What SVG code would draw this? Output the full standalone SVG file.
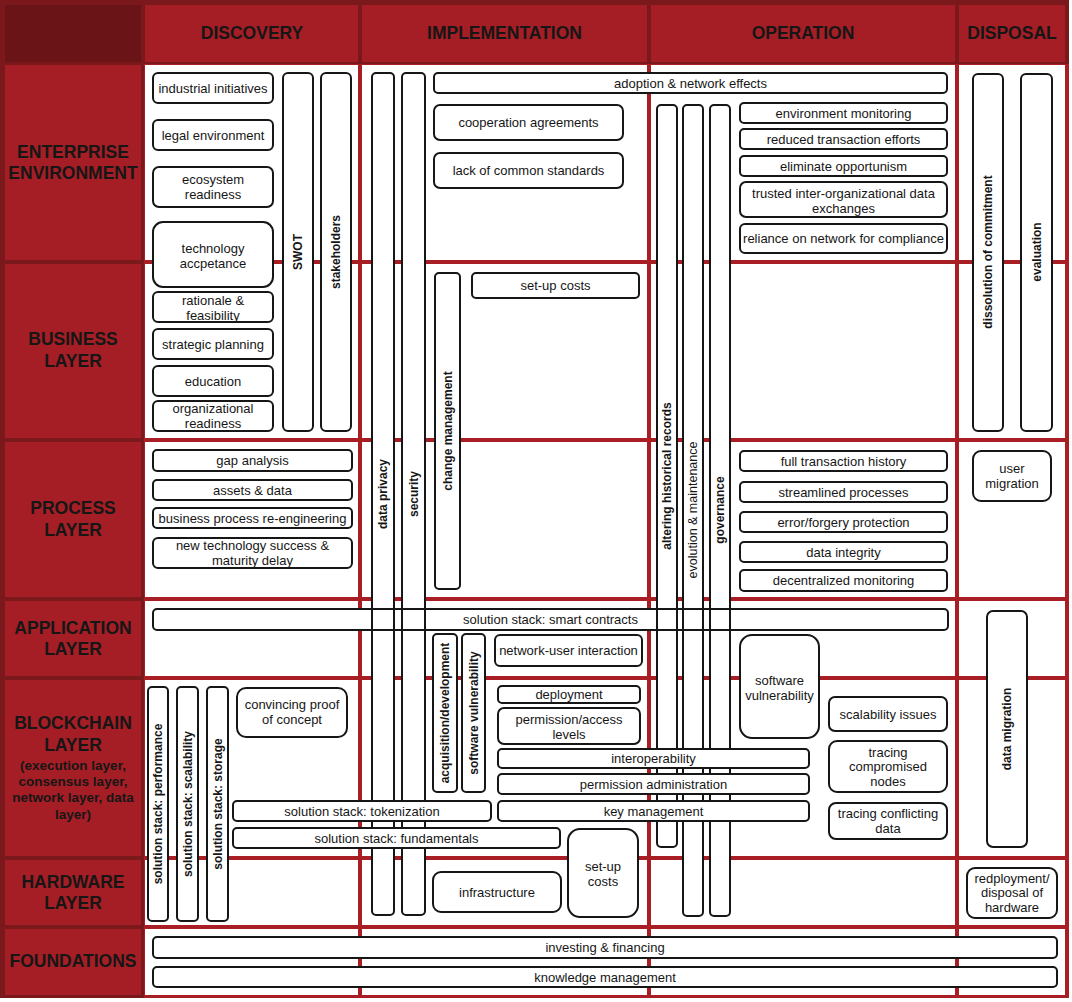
<svg xmlns="http://www.w3.org/2000/svg" width="1072" height="1002" viewBox="0 0 1072 1002">
<style>
.frame{fill:#7a181c}
.corner{fill:#6a1417}
.hd{fill:#a51e25}
.grid{fill:#a91d25}
.cell{fill:#ffffff}
.bk{fill:#ffffff;stroke:none}
.n rect{fill:none;stroke:#161616;stroke-width:2}
.n.top rect{fill:#ffffff}
text{font-family:"Liberation Sans",Arial,Helvetica,sans-serif;fill:#161616;text-anchor:middle}
.h{font-size:17.5px;font-weight:bold}
.s{font-size:13.5px;font-weight:bold}
.t{font-size:13px}
.v{font-size:12px;font-weight:bold}
.vr{font-size:12.5px}
</style>
<rect x="0" y="0" width="1072" height="1002" fill="#ffffff"/>
<g id="background">
<rect class="frame" x="0" y="0" width="1069" height="998"/>
<rect class="corner" x="5" y="5" width="136" height="57"/>
<rect class="hd" x="145" y="5" width="213" height="57"/>
<rect class="hd" x="362" y="5" width="285" height="57"/>
<rect class="hd" x="651" y="5" width="304" height="57"/>
<rect class="hd" x="959" y="5" width="106" height="57"/>
<rect class="hd" x="5" y="65" width="136" height="195"/>
<rect class="hd" x="5" y="264" width="136" height="174"/>
<rect class="hd" x="5" y="442" width="136" height="155"/>
<rect class="hd" x="5" y="601" width="136" height="75"/>
<rect class="hd" x="5" y="680" width="136" height="176"/>
<rect class="hd" x="5" y="860" width="136" height="65"/>
<rect class="hd" x="5" y="929" width="136" height="66"/>
<rect class="grid" x="144" y="64" width="925" height="934"/>
</g>
<g id="cells">
<rect class="cell" x="145" y="65" width="213" height="195"/><rect class="cell" x="362" y="65" width="285" height="195"/><rect class="cell" x="651" y="65" width="304" height="195"/><rect class="cell" x="959" y="65" width="106" height="195"/>
<rect class="cell" x="145" y="264" width="213" height="174"/><rect class="cell" x="362" y="264" width="285" height="174"/><rect class="cell" x="651" y="264" width="304" height="174"/><rect class="cell" x="959" y="264" width="106" height="174"/>
<rect class="cell" x="145" y="442" width="213" height="155"/><rect class="cell" x="362" y="442" width="285" height="155"/><rect class="cell" x="651" y="442" width="304" height="155"/><rect class="cell" x="959" y="442" width="106" height="155"/>
<rect class="cell" x="145" y="601" width="213" height="75"/><rect class="cell" x="362" y="601" width="285" height="75"/><rect class="cell" x="651" y="601" width="304" height="75"/><rect class="cell" x="959" y="601" width="106" height="75"/>
<rect class="cell" x="145" y="680" width="213" height="176"/><rect class="cell" x="362" y="680" width="285" height="176"/><rect class="cell" x="651" y="680" width="304" height="176"/><rect class="cell" x="959" y="680" width="106" height="176"/>
<rect class="cell" x="145" y="860" width="213" height="65"/><rect class="cell" x="362" y="860" width="285" height="65"/><rect class="cell" x="651" y="860" width="304" height="65"/><rect class="cell" x="959" y="860" width="106" height="65"/>
<rect class="cell" x="145" y="929" width="213" height="66"/><rect class="cell" x="362" y="929" width="285" height="66"/><rect class="cell" x="651" y="929" width="304" height="66"/><rect class="cell" x="959" y="929" width="106" height="66"/>
</g>
<g id="headers">
<text class="h" x="252" y="39">DISCOVERY</text>
<text class="h" x="504.5" y="39">IMPLEMENTATION</text>
<text class="h" x="803" y="39">OPERATION</text>
<text class="h" x="1012" y="39">DISPOSAL</text>
<text class="h" x="73" y="158">ENTERPRISE</text><text class="h" x="73" y="179">ENVIRONMENT</text>
<text class="h" x="73" y="345">BUSINESS</text><text class="h" x="73" y="367">LAYER</text>
<text class="h" x="73" y="514">PROCESS</text><text class="h" x="73" y="536">LAYER</text>
<text class="h" x="73" y="634">APPLICATION</text><text class="h" x="73" y="655">LAYER</text>
<text class="h" x="73" y="729">BLOCKCHAIN</text><text class="h" x="73" y="751">LAYER</text>
<text class="s" x="73" y="770">(execution layer,</text><text class="s" x="73" y="786">consensus layer,</text><text class="s" x="73" y="802">network layer, data</text><text class="s" x="73" y="819">layer)</text>
<text class="h" x="73" y="888">HARDWARE</text><text class="h" x="73" y="909">LAYER</text>
<text class="h" x="73" y="967">FOUNDATIONS</text>
</g>
<g id="node-backs" class="bk">
<rect x="153" y="73" width="120" height="30" rx="5"/><rect x="153" y="120" width="120" height="30" rx="5"/><rect x="153" y="167" width="120" height="40" rx="6"/><rect x="153" y="222" width="120" height="65" rx="10"/>
<rect x="283" y="73" width="30" height="358" rx="5"/><rect x="321" y="73" width="30" height="358" rx="5"/>
<rect x="153" y="292" width="120" height="30" rx="5"/><rect x="153" y="329" width="120" height="30" rx="5"/><rect x="153" y="366" width="120" height="30" rx="5"/><rect x="153" y="401" width="120" height="30" rx="5"/>
<rect x="153" y="450" width="199" height="21" rx="4"/><rect x="153" y="480" width="199" height="20" rx="4"/><rect x="153" y="508" width="199" height="20" rx="4"/><rect x="153" y="538" width="199" height="30" rx="5"/>
<rect x="148" y="687" width="20" height="234" rx="4"/><rect x="177" y="687" width="21" height="234" rx="4"/><rect x="207" y="687" width="21" height="234" rx="4"/>
<rect x="237" y="688" width="110" height="49" rx="9"/>
<rect x="372" y="73" width="22" height="842" rx="4"/><rect x="402" y="73" width="23" height="842" rx="4"/>
<rect x="434" y="73" width="513" height="20" rx="4"/><rect x="434" y="105" width="189" height="35" rx="6"/><rect x="434" y="153" width="189" height="35" rx="6"/>
<rect x="435" y="273" width="25" height="316" rx="4"/><rect x="472" y="273" width="167" height="25" rx="4"/>
<rect x="433" y="634" width="24" height="158" rx="4"/><rect x="462" y="634" width="23" height="158" rx="4"/><rect x="495" y="635" width="147" height="31" rx="5"/>
<rect x="498" y="686" width="142" height="17" rx="4"/><rect x="498" y="708" width="142" height="36" rx="6"/>
<rect x="568" y="829" width="70" height="88" rx="12"/><rect x="433" y="872" width="128" height="40" rx="8"/>
<rect x="657" y="105" width="20" height="742" rx="4"/><rect x="683" y="105" width="20" height="811" rx="4"/><rect x="710" y="105" width="20" height="811" rx="4"/>
<rect x="740" y="103" width="207" height="20" rx="4"/><rect x="740" y="129" width="207" height="20" rx="4"/><rect x="740" y="156" width="207" height="20" rx="4"/><rect x="740" y="182" width="207" height="35" rx="6"/><rect x="740" y="224" width="207" height="29" rx="5"/>
<rect x="740" y="451" width="207" height="20" rx="4"/><rect x="740" y="482" width="207" height="20" rx="4"/><rect x="740" y="512" width="207" height="20" rx="4"/><rect x="740" y="542" width="207" height="20" rx="4"/><rect x="740" y="570" width="207" height="21" rx="4"/>
<rect x="153" y="609" width="795" height="21" rx="4"/>
<rect x="740" y="635" width="79" height="103" rx="12"/><rect x="829" y="697" width="118" height="34" rx="6"/><rect x="829" y="741" width="118" height="51" rx="8"/><rect x="829" y="803" width="118" height="36" rx="7"/>
<rect x="973" y="74" width="30" height="357" rx="5"/><rect x="1021" y="74" width="31" height="357" rx="5"/>
<rect x="973" y="451" width="78" height="50" rx="8"/><rect x="987" y="611" width="40" height="236" rx="6"/><rect x="967" y="868" width="90" height="50" rx="8"/>
<rect x="153" y="937" width="904" height="21" rx="4"/><rect x="153" y="967" width="904" height="20" rx="4"/>
</g>
<g id="connectors"></g>
<g id="n-industrial" class="n"><rect x="153" y="73" width="120" height="30" rx="5"/><text class="t" x="213" y="92.5">industrial initiatives</text></g>
<g id="n-legal" class="n"><rect x="153" y="120" width="120" height="30" rx="5"/><text class="t" x="213" y="139.5">legal environment</text></g>
<g id="n-ecosystem" class="n"><rect x="153" y="167" width="120" height="40" rx="6"/><text class="t" x="213" y="183.5">ecosystem</text><text class="t" x="213" y="198.5">readiness</text></g>
<g id="n-techaccept" class="n"><rect x="153" y="222" width="120" height="65" rx="10"/><text class="t" x="213" y="252.5">technology</text><text class="t" x="213" y="267.5">accpetance</text></g>
<g id="n-swot" class="n"><rect x="283" y="73" width="30" height="358" rx="5"/><text class="v" transform="translate(298,252) rotate(-90)" y="4">SWOT</text></g>
<g id="n-stakeholders" class="n"><rect x="321" y="73" width="30" height="358" rx="5"/><text class="v" transform="translate(336,252) rotate(-90)" y="4">stakeholders</text></g>
<g id="n-rationale" class="n"><rect x="153" y="292" width="120" height="30" rx="5"/><text class="t" x="213" y="304.5">rationale &amp;</text><text class="t" x="213" y="319.5">feasibility</text></g>
<g id="n-strategic" class="n"><rect x="153" y="329" width="120" height="30" rx="5"/><text class="t" x="213" y="348.5">strategic planning</text></g>
<g id="n-education" class="n"><rect x="153" y="366" width="120" height="30" rx="5"/><text class="t" x="213" y="385.5">education</text></g>
<g id="n-orgready" class="n"><rect x="153" y="401" width="120" height="30" rx="5"/><text class="t" x="213" y="412.5">organizational</text><text class="t" x="213" y="427.5">readiness</text></g>
<g id="n-gap" class="n"><rect x="153" y="450" width="199" height="21" rx="4"/><text class="t" x="252.5" y="465">gap analysis</text></g>
<g id="n-assets" class="n"><rect x="153" y="480" width="199" height="20" rx="4"/><text class="t" x="252.5" y="494.5">assets &amp; data</text></g>
<g id="n-bpr" class="n"><rect x="153" y="508" width="199" height="20" rx="4"/><text class="t" x="252.5" y="522.5">business process re-engineering</text></g>
<g id="n-newtech" class="n"><rect x="153" y="538" width="199" height="30" rx="5"/><text class="t" x="252.5" y="549.5">new technology success &amp;</text><text class="t" x="252.5" y="564.5">maturity delay</text></g>
<g id="n-ss-performance" class="n"><rect x="148" y="687" width="20" height="234" rx="4"/><text class="v" transform="translate(158,804) rotate(-90)" y="4">solution stack: performance</text></g>
<g id="n-ss-scalability" class="n"><rect x="177" y="687" width="21" height="234" rx="4"/><text class="v" transform="translate(187.5,804) rotate(-90)" y="4">solution stack: scalability</text></g>
<g id="n-ss-storage" class="n"><rect x="207" y="687" width="21" height="234" rx="4"/><text class="v" transform="translate(217.5,804) rotate(-90)" y="4">solution stack: storage</text></g>
<g id="n-poc" class="n"><rect x="237" y="688" width="110" height="49" rx="9"/><text class="t" x="292" y="708.5">convincing proof</text><text class="t" x="292" y="723.5">of concept</text></g>
<g id="n-dataprivacy" class="n"><rect x="372" y="73" width="22" height="842" rx="4"/><text class="v" transform="translate(383,494) rotate(-90)" y="4">data privacy</text></g>
<g id="n-security" class="n"><rect x="402" y="73" width="23" height="842" rx="4"/><text class="v" transform="translate(413.5,494) rotate(-90)" y="4">security</text></g>
<g id="n-adoption" class="n"><rect x="434" y="73" width="513" height="20" rx="4"/><text class="t" x="690.5" y="87.5">adoption &amp; network effects</text></g>
<g id="n-cooperation" class="n"><rect x="434" y="105" width="189" height="35" rx="6"/><text class="t" x="528.5" y="127">cooperation agreements</text></g>
<g id="n-standards" class="n"><rect x="434" y="153" width="189" height="35" rx="6"/><text class="t" x="528.5" y="175">lack of common standards</text></g>
<g id="n-change" class="n"><rect x="435" y="273" width="25" height="316" rx="4"/><text class="v" transform="translate(447.5,431) rotate(-90)" y="4">change management</text></g>
<g id="n-setup1" class="n"><rect x="472" y="273" width="167" height="25" rx="4"/><text class="t" x="555.5" y="290">set-up costs</text></g>
<g id="n-acq" class="n"><rect x="433" y="634" width="24" height="158" rx="4"/><text class="v" transform="translate(445,713) rotate(-90)" y="4">acquisition/development</text></g>
<g id="n-softvuln1" class="n"><rect x="462" y="634" width="23" height="158" rx="4"/><text class="v" transform="translate(473.5,713) rotate(-90)" y="4">software vulnerability</text></g>
<g id="n-netuser" class="n"><rect x="495" y="635" width="147" height="31" rx="5"/><text class="t" x="568.5" y="655">network-user interaction</text></g>
<g id="n-deployment" class="n"><rect x="498" y="686" width="142" height="17" rx="4"/><text class="t" x="569" y="699">deployment</text></g>
<g id="n-permaccess" class="n"><rect x="498" y="708" width="142" height="36" rx="6"/><text class="t" x="569" y="723.5">permission/access</text><text class="t" x="569" y="738.5">levels</text></g>
<g id="n-setup2" class="n"><rect x="568" y="829" width="70" height="88" rx="12"/><text class="t" x="603" y="870.5">set-up</text><text class="t" x="603" y="885.5">costs</text></g>
<g id="n-infra" class="n"><rect x="433" y="872" width="128" height="40" rx="8"/><text class="t" x="497" y="896.5">infrastructure</text></g>
<g id="n-altering" class="n"><rect x="657" y="105" width="20" height="742" rx="4"/><text class="v" transform="translate(667,476) rotate(-90)" y="4">altering historical records</text></g>
<g id="n-evolution" class="n"><rect x="683" y="105" width="20" height="811" rx="4"/><text class="vr" transform="translate(693,510) rotate(-90)" y="4">evolution &amp; maintenance</text></g>
<g id="n-governance" class="n"><rect x="710" y="105" width="20" height="811" rx="4"/><text class="v" transform="translate(720,510) rotate(-90)" y="4">governance</text></g>
<g id="n-envmon" class="n"><rect x="740" y="103" width="207" height="20" rx="4"/><text class="t" x="843.5" y="117.5">environment monitoring</text></g>
<g id="n-reduced" class="n"><rect x="740" y="129" width="207" height="20" rx="4"/><text class="t" x="843.5" y="143.5">reduced transaction efforts</text></g>
<g id="n-eliminate" class="n"><rect x="740" y="156" width="207" height="20" rx="4"/><text class="t" x="843.5" y="170.5">eliminate opportunism</text></g>
<g id="n-trusted" class="n"><rect x="740" y="182" width="207" height="35" rx="6"/><text class="t" x="843.5" y="197.5">trusted inter-organizational data</text><text class="t" x="843.5" y="212.5">exchanges</text></g>
<g id="n-reliance" class="n"><rect x="740" y="224" width="207" height="29" rx="5"/><text class="t" x="843.5" y="243">reliance on network for compliance</text></g>
<g id="n-fullhist" class="n"><rect x="740" y="451" width="207" height="20" rx="4"/><text class="t" x="843.5" y="465.5">full transaction history</text></g>
<g id="n-streamlined" class="n"><rect x="740" y="482" width="207" height="20" rx="4"/><text class="t" x="843.5" y="496.5">streamlined processes</text></g>
<g id="n-errorforgery" class="n"><rect x="740" y="512" width="207" height="20" rx="4"/><text class="t" x="843.5" y="526.5">error/forgery protection</text></g>
<g id="n-integrity" class="n"><rect x="740" y="542" width="207" height="20" rx="4"/><text class="t" x="843.5" y="556.5">data integrity</text></g>
<g id="n-decmon" class="n"><rect x="740" y="570" width="207" height="21" rx="4"/><text class="t" x="843.5" y="585">decentralized monitoring</text></g>
<g id="n-smartcontracts" class="n"><rect x="153" y="609" width="795" height="21" rx="4"/><text class="t" x="550.5" y="624">solution stack: smart contracts</text></g>
<g id="n-softvuln2" class="n"><rect x="740" y="635" width="79" height="103" rx="12"/><text class="t" x="779.5" y="684.5">software</text><text class="t" x="779.5" y="699.5">vulnerability</text></g>
<g id="n-scalissues" class="n"><rect x="829" y="697" width="118" height="34" rx="6"/><text class="t" x="888" y="718.5">scalability issues</text></g>
<g id="n-tracenodes" class="n"><rect x="829" y="741" width="118" height="51" rx="8"/><text class="t" x="888" y="756.5">tracing</text><text class="t" x="888" y="770.5">compromised</text><text class="t" x="888" y="785.5">nodes</text></g>
<g id="n-tracedata" class="n"><rect x="829" y="803" width="118" height="36" rx="7"/><text class="t" x="888" y="817.5">tracing conflicting</text><text class="t" x="888" y="832.5">data</text></g>
<g id="n-dissolution" class="n"><rect x="973" y="74" width="30" height="357" rx="5"/><text class="v" transform="translate(988,252) rotate(-90)" y="4">dissolution of commitment</text></g>
<g id="n-evaluation" class="n"><rect x="1021" y="74" width="31" height="357" rx="5"/><text class="v" transform="translate(1036.5,252) rotate(-90)" y="4">evaluation</text></g>
<g id="n-usermig" class="n"><rect x="973" y="451" width="78" height="50" rx="8"/><text class="t" x="1012" y="472.5">user</text><text class="t" x="1012" y="487.5">migration</text></g>
<g id="n-datamig" class="n"><rect x="987" y="611" width="40" height="236" rx="6"/><text class="v" transform="translate(1007,729) rotate(-90)" y="4">data migration</text></g>
<g id="n-redeploy" class="n"><rect x="967" y="868" width="90" height="50" rx="8"/><text class="t" x="1012" y="882.5">redployment/</text><text class="t" x="1012" y="896.5">disposal of</text><text class="t" x="1012" y="911.5">hardware</text></g>
<g id="n-investing" class="n"><rect x="153" y="937" width="904" height="21" rx="4"/><text class="t" x="605" y="952">investing &amp; financing</text></g>
<g id="n-knowledge" class="n"><rect x="153" y="967" width="904" height="20" rx="4"/><text class="t" x="605" y="981.5">knowledge management</text></g>
<g id="n-ss-tokenization" class="n top"><rect x="233" y="801" width="258" height="20" rx="4"/><text class="t" x="362" y="815.5">solution stack: tokenization</text></g>
<g id="n-ss-fundamentals" class="n top"><rect x="233" y="828" width="327" height="20" rx="4"/><text class="t" x="396.5" y="842.5">solution stack: fundamentals</text></g>
<g id="n-interop" class="n top"><rect x="498" y="749" width="311" height="19" rx="4"/><text class="t" x="653.5" y="763">interoperability</text></g>
<g id="n-permadmin" class="n top"><rect x="498" y="774" width="311" height="20" rx="4"/><text class="t" x="653.5" y="788.5">permission administration</text></g>
<g id="n-keymgmt" class="n top"><rect x="498" y="801" width="311" height="20" rx="4"/><text class="t" x="653.5" y="815.5">key management</text></g>
</svg>
